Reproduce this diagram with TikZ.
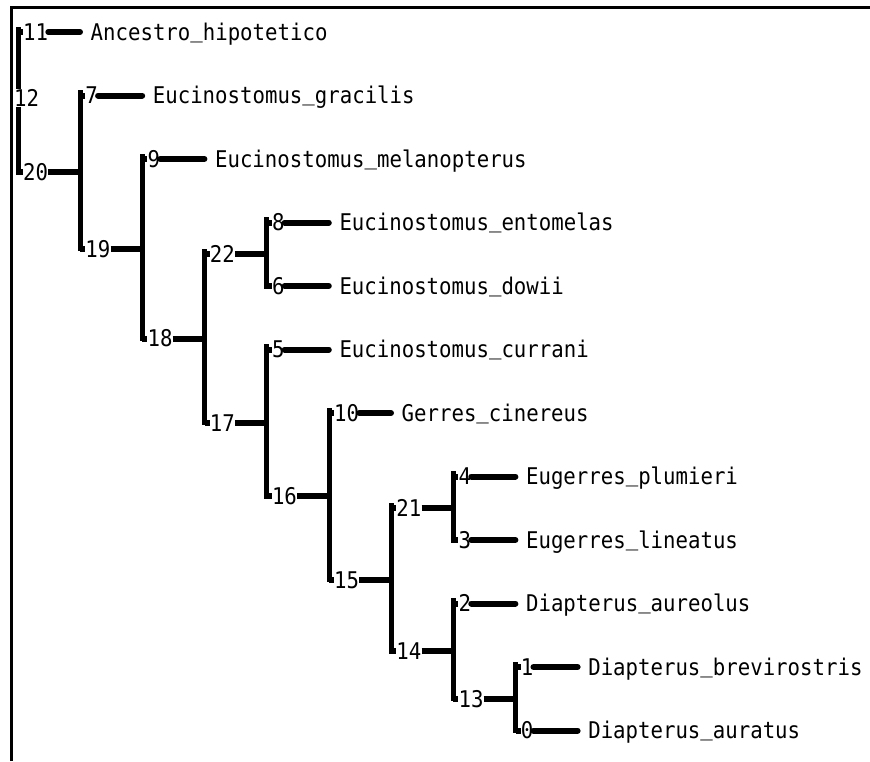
\documentclass[tikz,border=0pt]{standalone}
\usepackage{fontspec}
\newfontfamily\treefont[FakeStretch=0.9]{DejaVu Sans Mono}
\newcommand{\usc}{\raisebox{3pt}{\symbol{95}}}
\tikzset{
  treetext/.style={font=\treefont\fontsize{23pt}{25pt}\selectfont, text height=16.8pt, text depth=0pt},
  numlbl/.style={treetext, inner xsep=0pt, inner ysep=1pt},
  taxlbl/.style={treetext, inner sep=0pt},
  branch/.style={line width=6pt, line cap=butt},
  leafbar/.style={line width=6pt, line cap=round},
  vline/.style={line width=5pt, line cap=rect},
  framel/.style={line width=3pt}
}
\newcommand{\tleaf}[5]{%
  \node[numlbl, anchor=west] (n#1) at (#2+5,#3) {#4};
  \node[taxlbl, anchor=west] (t#1) at (#2+72.5,#3) {#5};
  \draw[branch] (#2,#3) -- (n#1.west);
  \draw[leafbar] (n#1.east) -- (#2+62,#3);
}
\newcommand{\tinner}[5]{%
  \node[numlbl, anchor=west] (n#1) at (#2+5,#3) {#4};
  \coordinate (c#1) at (#5,#3);
  \draw[branch] (#2,#3) -- (n#1.west);
  \draw[branch] (n#1.east) -- (c#1);
}
\newcommand{\tvert}[3]{%
  \draw[vline] (#1,#2-3) -- (#1,#3);
}
\begin{document}
\begin{tikzpicture}[x=1pt,y=-1pt]
\useasboundingbox (0,0) rectangle (870,761);
\fill[white] (0,0) rectangle (870,761);
% verticals
\tvert{18}{32}{172.15}
\tvert{80.2}{95.5}{248.8}
\tvert{142.4}{159}{338.59}
\tvert{204.6}{254.25}{422.92}
\tvert{266.8}{222.5}{286}
\tvert{266.8}{349.5}{496.34}
\tvert{329}{413}{579.69}
\tvert{391.2}{508.25}{651.13}
\tvert{453.4}{476.5}{540}
\tvert{453.4}{603.5}{698.75}
\tvert{515.6}{667}{730.5}
% root label
\node[numlbl, inner xsep=1pt, fill=white, anchor=west] (n12) at (13,98) {12};
% nodes
\tleaf{11}{18}{32}{11}{Ancestro\usc hipotetico}
\tinner{20}{18}{172.15}{20}{80.2}
\tleaf{7}{80.2}{95.5}{7}{Eucinostomus\usc gracilis}
\tinner{19}{80.2}{248.8}{19}{142.4}
\tleaf{9}{142.4}{159}{9}{Eucinostomus\usc melanopterus}
\tinner{18}{142.4}{338.59}{18}{204.6}
\tinner{22}{204.6}{254.25}{22}{266.8}
\tinner{17}{204.6}{422.92}{17}{266.8}
\tleaf{8}{266.8}{222.5}{8}{Eucinostomus\usc entomelas}
\tleaf{6}{266.8}{286}{6}{Eucinostomus\usc dowii}
\tleaf{5}{266.8}{349.5}{5}{Eucinostomus\usc currani}
\tinner{16}{266.8}{496.34}{16}{329}
\tleaf{10}{329}{413}{10}{Gerres\usc cinereus}
\tinner{15}{329}{579.69}{15}{391.2}
\tinner{21}{391.2}{508.25}{21}{453.4}
\tinner{14}{391.2}{651.13}{14}{453.4}
\tleaf{4}{453.4}{476.5}{4}{Eugerres\usc plumieri}
\tleaf{3}{453.4}{540}{3}{Eugerres\usc lineatus}
\tleaf{2}{453.4}{603.5}{2}{Diapterus\usc aureolus}
\tinner{13}{453.4}{698.75}{13}{515.6}
\tleaf{1}{515.6}{667}{1}{Diapterus\usc brevirostris}
\tleaf{0}{515.6}{730.5}{0}{Diapterus\usc auratus}
% frame
\draw[framel] (11.3,761) -- (11.3,7.3) -- (870,7.3);
\end{tikzpicture}
\end{document}
